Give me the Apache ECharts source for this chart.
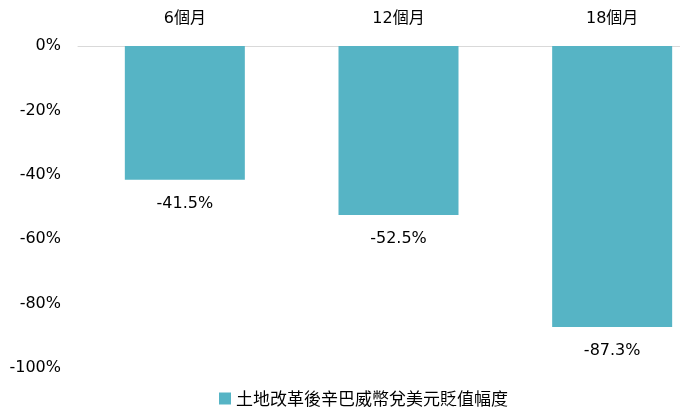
<!DOCTYPE html>
<html>
<head>
<meta charset="utf-8">
<script src="https://cdn.jsdelivr.net/npm/echarts@6/dist/echarts.min.js"></script>
<style>
    html, body { margin: 0; padding: 0; background: #fff; }
    #chart { width: 680px; height: 412px; }
</style>
</head>
<body>
<div id="chart"></div>
<script>
const categories = ['6個月', '12個月', '18個月'];
const depreciation = [-41.5, -52.5, -87.3];
const seriesName = '土地改革後辛巴威幣兌美元貶值幅度';

const font = '"DejaVu Sans", "Noto Sans CJK TC", sans-serif';
const chart = echarts.init(document.getElementById('chart'));

const option = {
    animation: false,
    color: ['#56b4c5'],
    textStyle: { fontFamily: font },
    grid: {
        left: 78,
        right: -39,
        top: 46,
        bottom: 44,
        containLabel: false,
        outerBoundsMode: 'none'
    },
    legend: {
        left: 219,
        top: 390,
        itemWidth: 12,
        itemHeight: 12,
        itemGap: 5,
        icon: 'rect',
        padding: 0,
        textStyle: { fontSize: 17, color: '#000', fontFamily: '"Noto Sans CJK TC", sans-serif' },
        data: [seriesName]
    },
    xAxis: {
        type: 'category',
        position: 'top',
        data: categories,
        axisLine: { lineStyle: { color: '#d9d9d9', width: 1 } },
        axisTick: { show: false },
        axisLabel: {
            fontSize: 16,
            color: '#000',
            margin: 19,
            fontFamily: font
        }
    },
    yAxis: {
        type: 'value',
        min: -100,
        max: 0,
        interval: 20,
        axisLine: { show: false },
        axisTick: { show: false },
        splitLine: { show: false },
        axisLabel: {
            fontSize: 16,
            color: '#000',
            margin: 17,
            padding: [3, 0, 0, 0],
            fontFamily: font,
            formatter: v => v + '%'
        }
    },
    series: [
        {
            name: seriesName,
            type: 'bar',
            barWidth: 120,
            data: depreciation,
            label: {
                show: true,
                position: 'bottom',
                distance: 16,
                fontSize: 16,
                color: '#000',
                fontFamily: font,
                formatter: p => p.value.toFixed(1) + '%'
            }
        }
    ]
};
chart.setOption(option);
</script>
</body>
</html>
